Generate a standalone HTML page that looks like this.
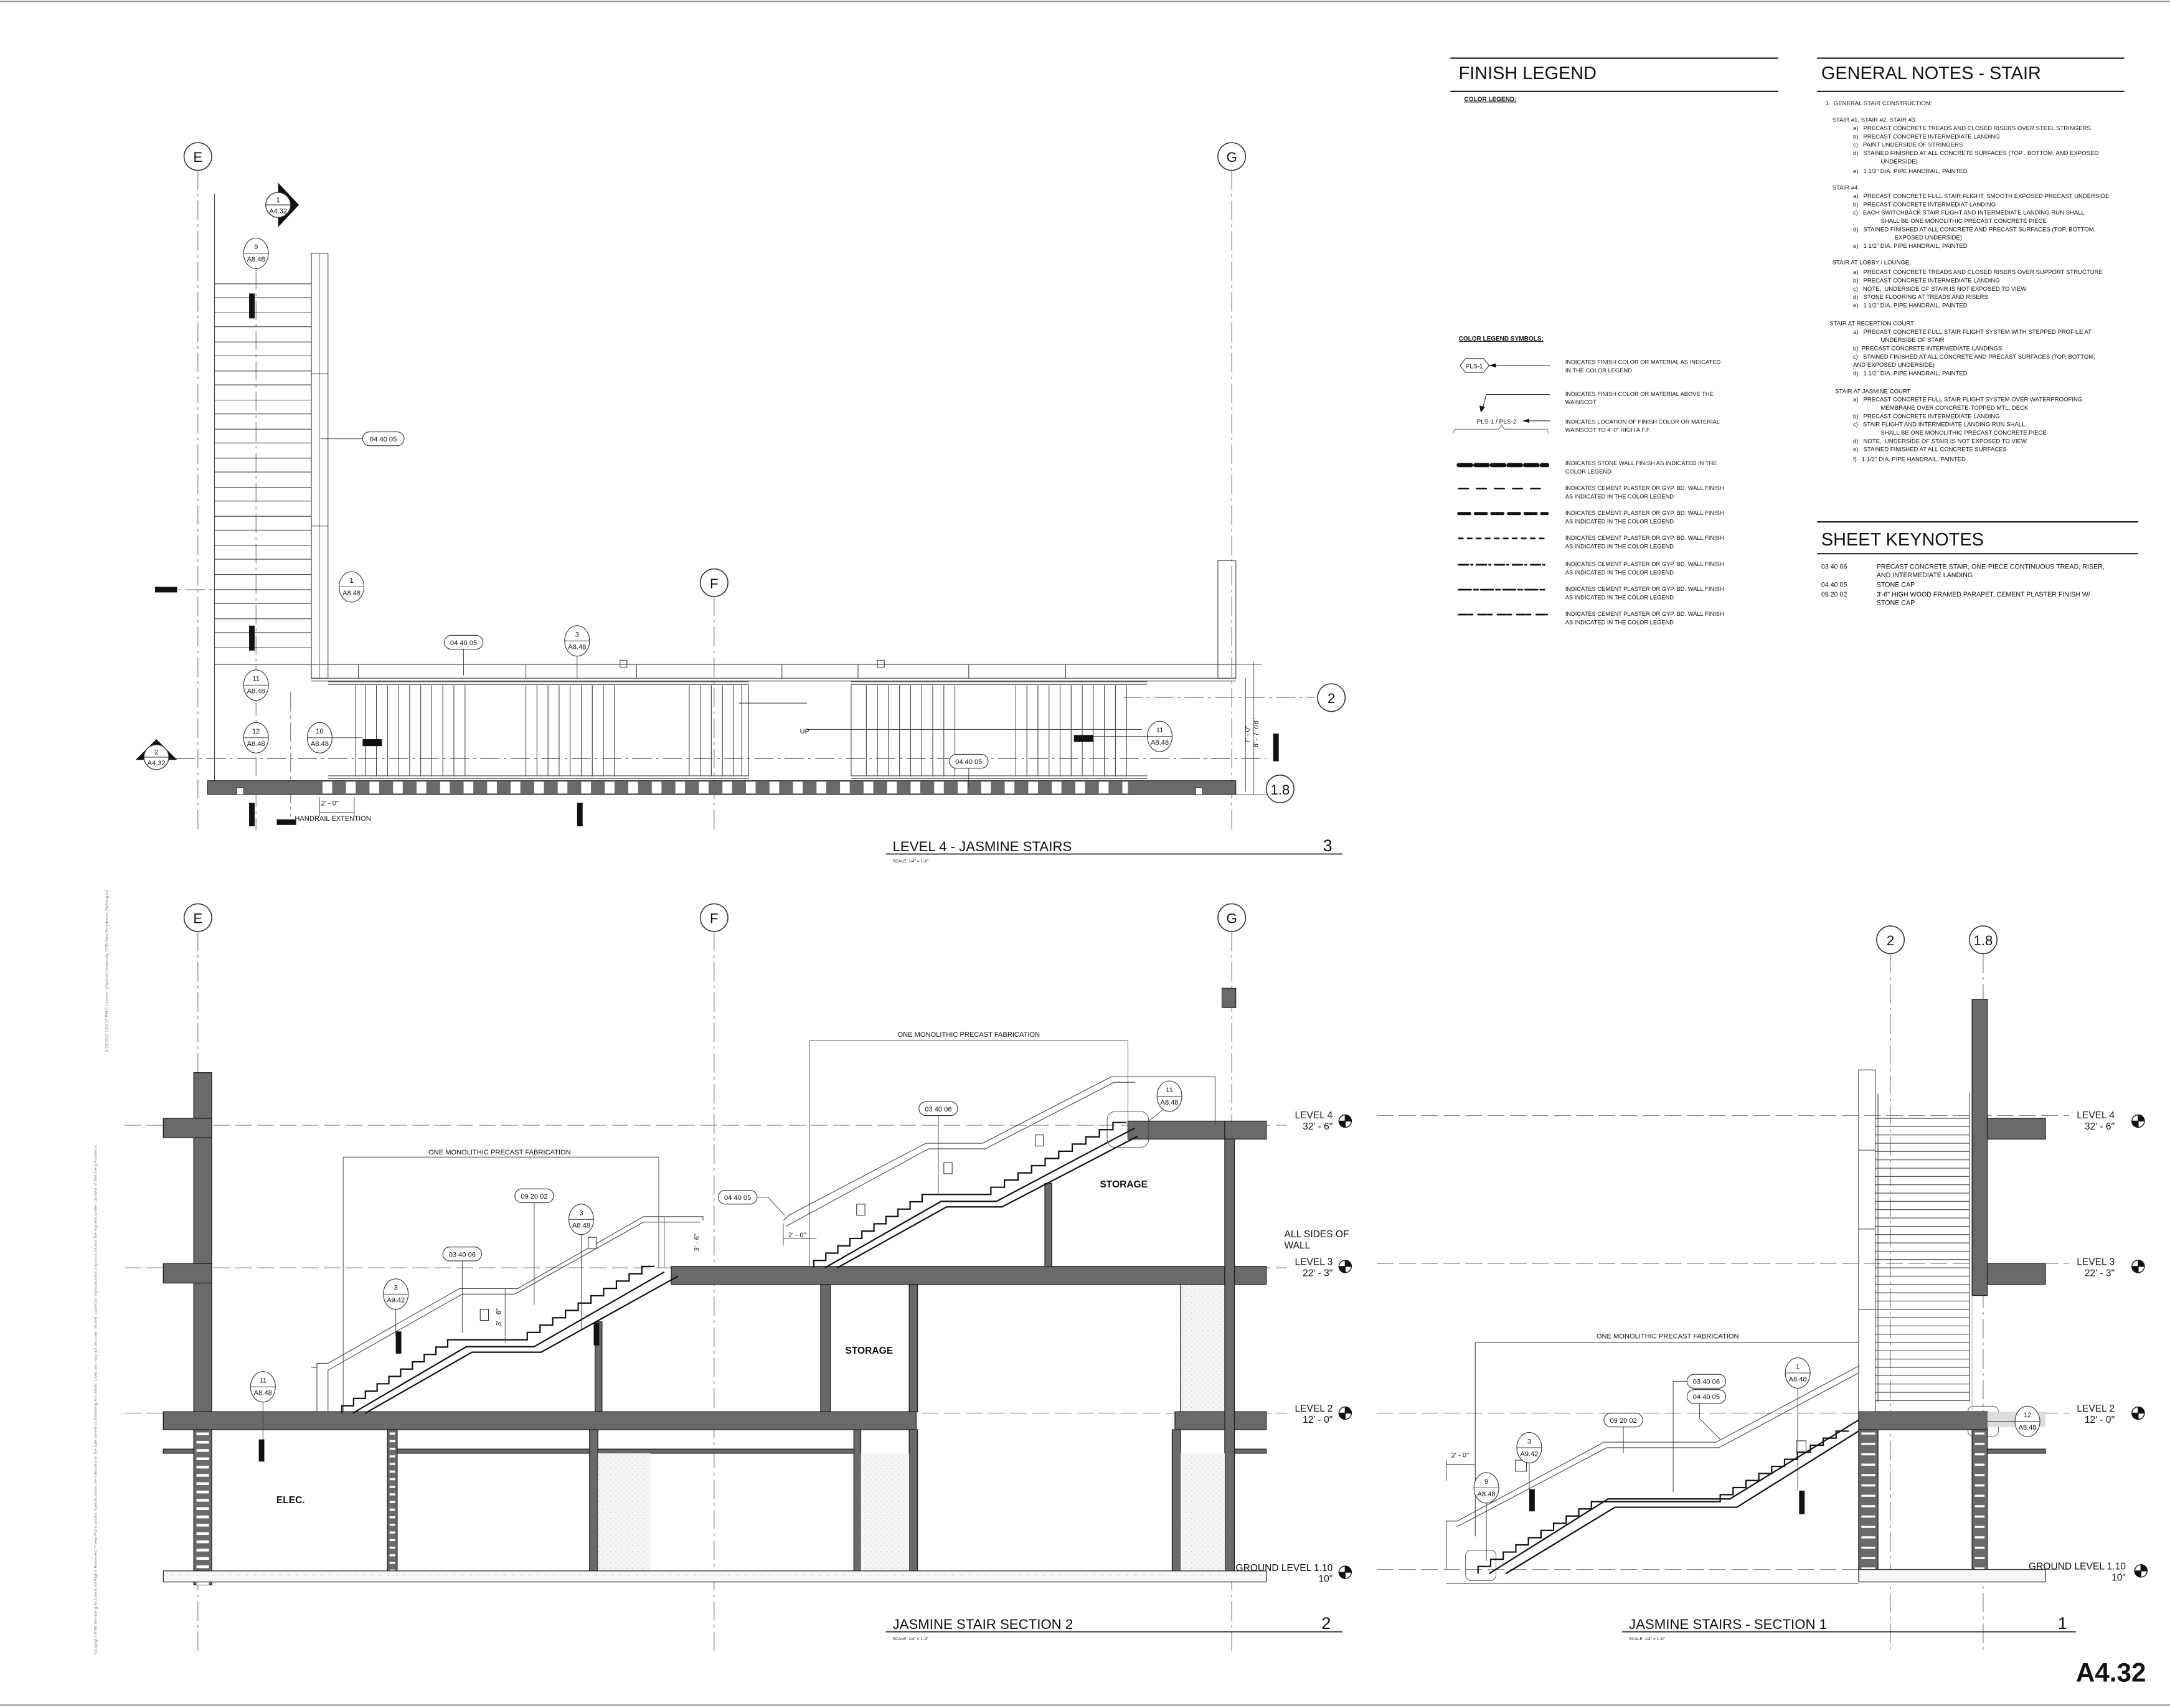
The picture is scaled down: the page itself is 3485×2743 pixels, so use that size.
<!DOCTYPE html>
<html><head><meta charset="utf-8"><style>
html,body{margin:0;padding:0;background:#fff}
svg{display:block}
text{font-family:"Liberation Sans",sans-serif;fill:#111}
.n{font-family:"Liberation Sans Narrow","Liberation Sans",sans-serif}
.pre text{white-space:pre}
</style></head><body>
<svg width="3485" height="2743" viewBox="0 0 1568 1234" xmlns="http://www.w3.org/2000/svg">
<defs>
<pattern id="hatch" width="4" height="4" patternUnits="userSpaceOnUse"><rect width="4" height="4" fill="#f4f4f4"/><circle cx="1" cy="1" r="0.3" fill="#bbb"/><circle cx="3" cy="3" r="0.3" fill="#ccc"/></pattern>
</defs>
<rect width="1568" height="1234" fill="#fff"/>
<line x1="0" y1="1" x2="1568" y2="1" stroke="#999" stroke-width="1"/>
<line x1="0" y1="1232" x2="1568" y2="1232" stroke="#999" stroke-width="1"/>
<text transform="translate(70,1195) rotate(-90)" font-size="3" style="fill:#888">Copyright 2008 Steinberg Architects All Rights Reserved. These Plans and/or Specifications are intended for the sole benefit of Steinberg Architects. Used and may not be used, reused, copied or reproduced in any form without the express written consent of Steinberg Architects.</text>
<text transform="translate(78,760) rotate(-90)" font-size="3" style="fill:#888">3/26/2018 2:05:12 PM     C:\Users\...\Stanford University GSB New Residence_Building.rvt</text>

<!-- ============ FINISH LEGEND ============ -->
<line x1="1048" y1="42" x2="1285" y2="42" stroke="#222" stroke-width="1"/>
<text x="1054" y="57" font-size="13">FINISH LEGEND</text>
<line x1="1048" y1="66" x2="1285" y2="66" stroke="#222" stroke-width="1"/>
<text x="1058" y="73" font-size="4.5" font-weight="bold" text-decoration="underline">COLOR LEGEND:</text>
<text x="1054" y="246" font-size="4.5" font-weight="bold" text-decoration="underline">COLOR LEGEND SYMBOLS:</text>
<polygon points="1055,264 1059,259 1072,259 1076,264 1072,269 1059,269" fill="none" stroke="#333" stroke-width="0.5"/>
<text x="1059" y="266" font-size="4.5">PLS-1</text>
<line x1="1076" y1="264" x2="1120" y2="264" stroke="#333" stroke-width="0.5"/>
<polygon points="1076,264 1081,262.5 1081,265.5" fill="#111"/>
<g font-size="4.2">
<text x="1131" y="263">INDICATES FINISH COLOR OR MATERIAL AS INDICATED</text><text x="1131" y="269">IN THE COLOR LEGEND</text>
<text x="1131" y="286">INDICATES FINISH COLOR OR MATERIAL ABOVE THE</text><text x="1131" y="292">WAINSCOT</text>
<text x="1131" y="306">INDICATES LOCATION OF FINISH COLOR OR MATERIAL</text><text x="1131" y="312">WAINSCOT TO 4'-0" HIGH A.F.F.</text>
<text x="1131" y="336">INDICATES STONE WALL FINISH AS INDICATED IN THE</text><text x="1131" y="342">COLOR LEGEND</text>
<text x="1131" y="354">INDICATES CEMENT PLASTER OR GYP. BD. WALL FINISH</text><text x="1131" y="360">AS INDICATED IN THE COLOR LEGEND</text>
<text x="1131" y="372">INDICATES CEMENT PLASTER OR GYP. BD. WALL FINISH</text><text x="1131" y="378">AS INDICATED IN THE COLOR LEGEND</text>
<text x="1131" y="390">INDICATES CEMENT PLASTER OR GYP. BD. WALL FINISH</text><text x="1131" y="396">AS INDICATED IN THE COLOR LEGEND</text>
<text x="1131" y="409">INDICATES CEMENT PLASTER OR GYP. BD. WALL FINISH</text><text x="1131" y="415">AS INDICATED IN THE COLOR LEGEND</text>
<text x="1131" y="427">INDICATES CEMENT PLASTER OR GYP. BD. WALL FINISH</text><text x="1131" y="433">AS INDICATED IN THE COLOR LEGEND</text>
<text x="1131" y="445">INDICATES CEMENT PLASTER OR GYP. BD. WALL FINISH</text><text x="1131" y="451">AS INDICATED IN THE COLOR LEGEND</text>
</g>
<polyline points="1120,285 1074,285 1071,296" fill="none" stroke="#333" stroke-width="0.5"/>
<polygon points="1070,298 1069,293 1073,294" fill="#111"/>
<text x="1067" y="306" font-size="4.5">PLS-1 / PLS-2</text>
<line x1="1101" y1="304" x2="1120" y2="304" stroke="#333" stroke-width="0.5"/>
<polygon points="1100,304 1105,302.5 1105,305.5" fill="#111"/>
<polyline points="1050,313 1051,310 1083,310 1085,307 1087,310 1118,310 1119,313" fill="none" stroke="#555" stroke-width="0.4"/>
<g stroke="#111" fill="none" stroke-linecap="round">
<line x1="1054" y1="336" x2="1118" y2="336" stroke-width="3" stroke-dasharray="9 3"/>
<line x1="1054" y1="353" x2="1118" y2="353" stroke-width="1" stroke-dasharray="7 6"/>
<line x1="1054" y1="371" x2="1118" y2="371" stroke-width="2.2" stroke-dasharray="2 1 2 1 2 4"/>
<line x1="1054" y1="389" x2="1118" y2="389" stroke-width="1.2" stroke-dasharray="3 3.5"/>
<line x1="1054" y1="408" x2="1118" y2="408" stroke-width="1.2" stroke-dasharray="7 2 1 3"/>
<line x1="1054" y1="426" x2="1118" y2="426" stroke-width="1.2" stroke-dasharray="9 2 1 1 1 2"/>
<line x1="1054" y1="444" x2="1118" y2="444" stroke-width="1.2" stroke-dasharray="6 1 3 4"/>
</g>

<!-- ============ GENERAL NOTES ============ -->
<line x1="1313" y1="42" x2="1535" y2="42" stroke="#222" stroke-width="1"/>
<text x="1316" y="57" font-size="13">GENERAL NOTES - STAIR</text>
<line x1="1313" y1="66" x2="1535" y2="66" stroke="#222" stroke-width="1"/>
<g font-size="4.3" class="pre">
<text x="1319" y="76">1.  GENERAL STAIR CONSTRUCTION:</text>
<text x="1324" y="88">STAIR #1, STAIR #2, STAIR #3</text>
<text x="1339" y="94">a)   PRECAST CONCRETE TREADS AND CLOSED RISERS OVER STEEL STRINGERS.</text>
<text x="1339" y="100">b)   PRECAST CONCRETE INTERMEDIATE LANDING</text>
<text x="1339" y="106">c)   PAINT UNDERSIDE OF STRINGERS</text>
<text x="1339" y="112">d)   STAINED FINISHED AT ALL CONCRETE SURFACES (TOP , BOTTOM, AND EXPOSED</text>
<text x="1359" y="118">UNDERSIDE)</text>
<text x="1339" y="125">e)   1 1/2" DIA. PIPE HANDRAIL, PAINTED</text>
<text x="1324" y="137">STAIR #4</text>
<text x="1339" y="143">a)   PRECAST CONCRETE FULL STAIR FLIGHT, SMOOTH EXPOSED PRECAST UNDERSIDE</text>
<text x="1339" y="149">b)   PRECAST CONCRETE INTERMEDIAT LANDING</text>
<text x="1339" y="155">c)   EACH SWITCHBACK STAIR FLIGHT AND INTERMEDIATE LANDING RUN SHALL</text>
<text x="1359" y="161">SHALL BE ONE MONOLITHIC PRECAST CONCRETE PIECE</text>
<text x="1339" y="167">d)   STAINED FINISHED AT ALL CONCRETE AND PRECAST SURFACES (TOP, BOTTOM,</text>
<text x="1369" y="173">EXPOSED UNDERSIDE)</text>
<text x="1339" y="179">e)   1 1/2" DIA. PIPE HANDRAIL, PAINTED</text>
<text x="1324" y="191">STAIR AT LOBBY / LOUNGE:</text>
<text x="1339" y="198">a)   PRECAST CONCRETE TREADS AND CLOSED RISERS OVER SUPPORT STRUCTURE</text>
<text x="1339" y="204">b)   PRECAST CONCRETE INTERMEDIATE LANDING</text>
<text x="1339" y="210">c)   NOTE,  UNDERSIDE OF STAIR IS NOT EXPOSED TO VIEW</text>
<text x="1339" y="216">d)   STONE FLOORING AT TREADS AND RISERS</text>
<text x="1339" y="222">e)   1 1/2" DIA. PIPE HANDRAIL, PAINTED</text>
<text x="1322" y="235">STAIR AT RECEPTION COURT</text>
<text x="1339" y="241">a)   PRECAST CONCRETE FULL STAIR FLIGHT SYSTEM WITH STEPPED PROFILE AT</text>
<text x="1359" y="247">UNDERSIDE OF STAIR</text>
<text x="1339" y="253">b)  PRECAST CONCRETE INTERMEDIATE LANDINGS</text>
<text x="1339" y="259">c)   STAINED FINISHED AT ALL CONCRETE AND PRECAST SURFACES (TOP, BOTTOM,</text>
<text x="1339" y="265">AND EXPOSED UNDERSIDE)</text>
<text x="1339" y="271">d)   1 1/2" DIA. PIPE HANDRAIL, PAINTED</text>
<text x="1326" y="284">STAIR AT JASMINE COURT</text>
<text x="1339" y="290">a)   PRECAST CONCRETE FULL STAIR FLIGHT SYSTEM OVER WATERPROOFING</text>
<text x="1359" y="296">MEMBRANE OVER CONCRETE-TOPPED MTL. DECK</text>
<text x="1339" y="302">b)   PRECAST CONCRETE INTERMEDIATE LANDING</text>
<text x="1339" y="308">c)   STAIR FLIGHT AND INTERMEDIATE LANDING RUN SHALL</text>
<text x="1359" y="314">SHALL BE ONE MONOLITHIC PRECAST CONCRETE PIECE</text>
<text x="1339" y="320">d)   NOTE,  UNDERSIDE OF STAIR IS NOT EXPOSED TO VIEW</text>
<text x="1339" y="326">e)   STAINED FINISHED AT ALL CONCRETE SURFACES</text>
<text x="1339" y="333">f)   1 1/2" DIA. PIPE HANDRAIL, PAINTED</text>
</g>
<line x1="1313" y1="377" x2="1545" y2="377" stroke="#222" stroke-width="1"/>
<text x="1316" y="394" font-size="13">SHEET KEYNOTES</text>
<line x1="1313" y1="400" x2="1545" y2="400" stroke="#222" stroke-width="1"/>
<g font-size="4.8">
<text x="1316" y="411">03 40 06</text><text x="1356" y="411">PRECAST CONCRETE STAIR, ONE-PIECE CONTINUOUS TREAD, RISER,</text>
<text x="1356" y="417">AND INTERMEDIATE LANDING</text>
<text x="1316" y="424">04 40 05</text><text x="1356" y="424">STONE CAP</text>
<text x="1316" y="431">09 20 02</text><text x="1356" y="431">3'-6" HIGH WOOD FRAMED PARAPET, CEMENT PLASTER FINISH W/</text>
<text x="1356" y="437">STONE CAP</text>
</g>

<!-- ============ PLAN LEVEL 4 ============ -->
<g stroke="#777" stroke-width="0.5" stroke-dasharray="14 3 2 3" fill="none">
<line x1="143" y1="123" x2="143" y2="600"/>
<line x1="890" y1="123" x2="890" y2="600"/>
<line x1="516" y1="431" x2="516" y2="600"/>
<line x1="105" y1="548" x2="915" y2="548" stroke="#444"/>
<line x1="112" y1="426" x2="225" y2="426"/>
<line x1="812" y1="504" x2="950" y2="504"/>
<line x1="185" y1="195" x2="185" y2="600"/>
<line x1="210" y1="500" x2="210" y2="590"/>
</g>
<g fill="#fff" stroke="#333" stroke-width="0.7">
<circle cx="143" cy="113" r="10"/><circle cx="890" cy="113" r="10"/><circle cx="516" cy="421" r="10"/>
<circle cx="962" cy="504" r="10"/><circle cx="925" cy="570" r="10"/>
</g>
<g font-size="10" text-anchor="middle">
<text x="143" y="117">E</text><text x="890" y="117">G</text><text x="516" y="425">F</text>
<text x="962" y="508">2</text><text x="925" y="574">1.8</text>
</g>
<g stroke="#444" stroke-width="0.5" fill="none">
<line x1="155" y1="140" x2="155" y2="572"/>
<rect x="225" y="183" width="12" height="307"/>
<line x1="231" y1="183" x2="231" y2="490" stroke="#888"/>
<line x1="225" y1="270" x2="237" y2="270"/><line x1="225" y1="380" x2="237" y2="380"/>
<path d="M155 205H225M155 215H225M155 226H225M155 236H225M155 247H225M155 257H225M155 268H225M155 278H225M155 289H225M155 299H225M155 310H225M155 320H225M155 331H225M155 341H225M155 352H225M155 362H225M155 373H225M155 383H225M155 394H225M155 404H225M155 415H225M155 426H225M155 436H225M155 447H225M155 457H225M155 468H225"/>
<line x1="155" y1="480" x2="893" y2="480"/>
<line x1="225" y1="490" x2="893" y2="490"/>
<line x1="225" y1="492" x2="893" y2="492"/>
<rect x="880" y="405" width="13" height="85"/>
<path d="M259 480V490M380 480V490M460 480V490M565 480V490M620 480V490M700 480V490M770 480V490"/>
<rect x="448" y="477" width="5" height="5"/><rect x="634" y="477" width="5" height="5"/>
<path d="M237 492.5H541M237 494.5H541M615 492.5H829M615 494.5H829M237 560.5H541M237 562.5H541M615 560.5H829M615 562.5H829"/>
<path d="M541 495V561M615 495V561"/>
<path d="M534 508H583"/>
<path d="M257 495V561M264 495V561M272 495V561M280 495V561M288 495V561M296 495V561M304 495V561M312 495V561M320 495V561M328 495V561M336 495V561M380 495V561M388 495V561M396 495V561M404 495V561M412 495V561M420 495V561M428 495V561M436 495V561M444 495V561M498 495V561M506 495V561M514 495V561M522 495V561M530 495V561M536 495V561"/>
<path d="M626 495V561M634 495V561M642 495V561M650 495V561M658 495V561M666 495V561M674 495V561M682 495V561M690 495V561M734 495V561M742 495V561M750 495V561M758 495V561M766 495V561M774 495V561M782 495V561M790 495V561M798 495V561M806 495V561M814 495V561"/>
<line x1="583" y1="527" x2="825" y2="527"/>
</g>
<text x="578" y="530" font-size="5" class="n">UP</text>
<rect x="150" y="564" width="743" height="10" fill="#6a6a6a" stroke="#222" stroke-width="0.5"/>
<line x1="233" y1="569" x2="815" y2="569" stroke="#fff" stroke-width="8.5" stroke-dasharray="7 10"/>
<rect x="171" y="569" width="5" height="5" fill="#fff" stroke="#222" stroke-width="0.4"/>
<rect x="864" y="569" width="5" height="5" fill="#fff" stroke="#222" stroke-width="0.4"/>
<g stroke="#444" stroke-width="0.4" fill="none">
<line x1="900" y1="490" x2="900" y2="572"/><line x1="906" y1="478" x2="906" y2="574"/>
<line x1="893" y1="480" x2="912" y2="480"/><line x1="893" y1="574" x2="915" y2="574"/>
<line x1="231" y1="576" x2="231" y2="590"/><line x1="256" y1="576" x2="256" y2="590"/><line x1="231" y1="587" x2="256" y2="587"/>
</g>
<text transform="translate(903,537) rotate(-90)" font-size="5" class="n">7' - 0"</text>
<text transform="translate(909,540) rotate(-90)" font-size="5" class="n">8' - 7 7/8"</text>
<text x="232" y="582" font-size="5" class="n">2' - 0"</text>
<text x="213" y="593" font-size="5" class="n">HANDRAIL EXTENTION</text>
<g fill="#111">
<rect x="180" y="212" width="4" height="18"/><rect x="112" y="424" width="16" height="4"/>
<rect x="180" y="452" width="4" height="18"/><rect x="262" y="534" width="14" height="5"/>
<rect x="776" y="531" width="14" height="5"/><rect x="920" y="530" width="4" height="20"/>
<rect x="180" y="580" width="4" height="17"/><rect x="417" y="580" width="4" height="17"/>
<rect x="200" y="592" width="14" height="4"/>
</g>
<polygon points="201,132 216,148 201,164" fill="#111"/>
<circle cx="201" cy="148" r="9" fill="#fff" stroke="#333" stroke-width="0.6"/>
<line x1="192" y1="148" x2="210" y2="148" stroke="#333" stroke-width="0.5"/>
<text x="201" y="146" font-size="5" text-anchor="middle">1</text><text x="201" y="154" font-size="5" text-anchor="middle">A4.32</text>
<polygon points="98,549 113,534 128,549" fill="#111"/>
<circle cx="113" cy="547" r="9" fill="#fff" stroke="#333" stroke-width="0.6"/>
<line x1="104" y1="547" x2="122" y2="547" stroke="#333" stroke-width="0.5"/>
<text x="113" y="545" font-size="5" text-anchor="middle">2</text><text x="113" y="553" font-size="5" text-anchor="middle">A4.32</text>
<g stroke="#333" stroke-width="0.5" fill="#fff">
<ellipse cx="185" cy="183" rx="9" ry="11"/><ellipse cx="254" cy="424" rx="9" ry="11"/>
<ellipse cx="185" cy="495" rx="9" ry="11"/><ellipse cx="185" cy="533" rx="9" ry="11"/>
<ellipse cx="231" cy="533" rx="9" ry="11"/><ellipse cx="417" cy="463" rx="9" ry="11"/>
<ellipse cx="838" cy="532" rx="9" ry="11"/>
<rect x="262" y="312" width="30" height="10" rx="5"/><rect x="321" y="459" width="28" height="10" rx="5"/>
<rect x="686" y="545" width="28" height="10" rx="5"/>
</g>
<g stroke="#333" stroke-width="0.4">
<line x1="176" y1="183" x2="194" y2="183"/><line x1="245" y1="424" x2="263" y2="424"/>
<line x1="176" y1="495" x2="194" y2="495"/><line x1="176" y1="533" x2="194" y2="533"/>
<line x1="222" y1="533" x2="240" y2="533"/><line x1="408" y1="463" x2="426" y2="463"/>
<line x1="829" y1="532" x2="847" y2="532"/>
<line x1="232" y1="317" x2="262" y2="317"/><line x1="335" y1="469" x2="335" y2="488"/>
<line x1="700" y1="555" x2="700" y2="569"/><line x1="240" y1="533" x2="262" y2="533"/>
<line x1="417" y1="474" x2="417" y2="490"/><line x1="790" y1="532" x2="829" y2="532"/>
</g>
<g font-size="5" text-anchor="middle" class="n">
<text x="185" y="180">9</text><text x="185" y="189">A8.48</text>
<text x="254" y="421">1</text><text x="254" y="430">A8.48</text>
<text x="185" y="492">11</text><text x="185" y="501">A8.48</text>
<text x="185" y="530">12</text><text x="185" y="539">A8.48</text>
<text x="231" y="530">10</text><text x="231" y="539">A8.48</text>
<text x="417" y="460">3</text><text x="417" y="469">A8.48</text>
<text x="838" y="529">11</text><text x="838" y="538">A8.48</text>
<text x="277" y="319">04 40 05</text><text x="335" y="466">04 40 05</text><text x="700" y="552">04 40 05</text>
</g>
<text x="645" y="615" font-size="10" class="n">LEVEL 4 - JASMINE STAIRS</text>
<line x1="640" y1="617" x2="970" y2="617" stroke="#222" stroke-width="0.8"/>
<text x="956" y="615" font-size="12">3</text>
<text x="645" y="623" font-size="3">SCALE: 1/4" = 1'-0"</text>

<!-- ============ SECTION 2 ============ -->
<g stroke="#777" stroke-width="0.5" stroke-dasharray="14 3 2 3" fill="none">
<line x1="143" y1="673" x2="143" y2="1195"/><line x1="516" y1="673" x2="516" y2="1195"/><line x1="890" y1="673" x2="890" y2="1195"/>
<line x1="1366" y1="689" x2="1366" y2="1195"/><line x1="1433" y1="689" x2="1433" y2="1195"/>
</g>
<g stroke="#888" stroke-width="0.5" stroke-dasharray="12 4" fill="none">
<line x1="90" y1="813" x2="930" y2="813"/><line x1="90" y1="916" x2="930" y2="916"/><line x1="90" y1="1021" x2="930" y2="1021"/>
<line x1="995" y1="806" x2="1495" y2="806"/><line x1="995" y1="913" x2="1495" y2="913"/><line x1="995" y1="1021" x2="1495" y2="1021"/><line x1="995" y1="1134" x2="1495" y2="1134"/>
</g>
<g fill="#fff" stroke="#333" stroke-width="0.7">
<circle cx="143" cy="663" r="10"/><circle cx="516" cy="663" r="10"/><circle cx="890" cy="663" r="10"/>
<circle cx="1366" cy="679" r="10"/><circle cx="1433" cy="679" r="10"/>
</g>
<g font-size="10" text-anchor="middle">
<text x="143" y="667">E</text><text x="516" y="667">F</text><text x="890" y="667">G</text>
<text x="1366" y="683">2</text><text x="1433" y="683">1.8</text>
</g>
<rect x="883" y="714" width="10" height="14" fill="#6a6a6a" stroke="#222" stroke-width="0.5"/>
<g fill="#6a6a6a" stroke="#222" stroke-width="0.6">
<rect x="140" y="775" width="13" height="246"/>
<rect x="118" y="808" width="35" height="14"/><rect x="118" y="913" width="35" height="14"/>
<rect x="118" y="1020" width="544" height="13"/>
<rect x="485" y="915" width="400" height="13"/><rect x="885" y="915" width="30" height="13"/>
<rect x="815" y="810" width="70" height="13"/><rect x="885" y="810" width="30" height="13"/>
<rect x="849" y="1020" width="66" height="13"/>
<rect x="593" y="928" width="7" height="92"/><rect x="657" y="928" width="6" height="92"/>
<rect x="755" y="855" width="5" height="60"/><rect x="430" y="955" width="5" height="65"/>
<rect x="885" y="823" width="7" height="315"/>
<rect x="280" y="1033" width="7" height="104"/><rect x="426" y="1033" width="6" height="104"/>
<rect x="617" y="1033" width="5" height="104"/><rect x="657" y="1033" width="6" height="104"/>
<rect x="847" y="1033" width="6" height="104"/>
<rect x="140" y="1033" width="13" height="112"/>
<rect x="287" y="1047" width="139" height="3"/><rect x="432" y="1047" width="185" height="3"/>
<rect x="118" y="1047" width="22" height="3"/><rect x="892" y="1047" width="23" height="3"/>
</g>
<rect x="432" y="1050" width="38" height="86" fill="url(#hatch)"/>
<rect x="622" y="1050" width="35" height="86" fill="url(#hatch)"/>
<rect x="853" y="1050" width="32" height="86" fill="url(#hatch)"/>
<rect x="853" y="928" width="32" height="92" fill="url(#hatch)"/>
<rect x="853" y="928" width="32" height="92" fill="none" stroke="#222" stroke-width="0.6"/>
<line x1="146.5" y1="1035" x2="146.5" y2="1145" stroke="#fff" stroke-width="9" stroke-dasharray="2 4"/>
<line x1="283.5" y1="1035" x2="283.5" y2="1137" stroke="#fff" stroke-width="4" stroke-dasharray="1.5 4"/>
<rect x="118" y="1135" width="797" height="8" fill="#f7f7f7" stroke="#333" stroke-width="0.6"/>
<line x1="118" y1="1138" x2="915" y2="1138" stroke="#999" stroke-width="0.4" stroke-dasharray="1 5"/>
<g fill="none" stroke="#111" stroke-width="1">
<path d="M247 1021 v-5.3h8.5v-5.3h8.5v-5.3h8.5v-5.3h8.5v-5.3h8.5v-5.3h8.5v-5.3h8.5v-5.3h8.5v-5.3h8.5v-5.3h8.5 h49 v-5.3h9.2v-5.3h9.2v-5.3h9.2v-5.3h9.2v-5.3h9.2v-5.3h9.2v-5.3h9.2v-5.3h9.2v-5.3h9.2v-5.3h9.2"/>
<polyline points="255,1021 337,973 386,973 480,919"/>
<polyline points="264,1021 341,977 391,977 490,922"/>
<path d="M588 916 v-5.3h8.7v-5.3h8.7v-5.3h8.7v-5.3h8.7v-5.3h8.7v-5.3h8.7v-5.3h8.7v-5.3h8.7v-5.3h8.7v-5.3h8.7 h41 v-5.2h9.8v-5.2h9.8v-5.2h9.8v-5.2h9.8v-5.2h9.8v-5.2h9.8v-5.2h9.8v-5.2h9.8v-5.2h9.8v-5.2h9.8"/>
<polyline points="596,916 680,868 720,868 820,815"/>
<polyline points="605,916 684,872 724,872 822,821"/>
</g>
<g fill="none" stroke="#444" stroke-width="0.5">
<polyline points="229,1020 229,985 237,985 332,931 374,931 465,879 508,879 508,882"/>
<polyline points="237,1020 237,990 334,935 372,935 465,883 506,883"/>
<polyline points="566,882 570,878 669,826 710,826 803,778 878,778 878,813"/>
<polyline points="568,886 671,830 712,830 805,782 820,782"/>
<line x1="225" y1="988" x2="229" y2="988"/>
</g>
<g stroke="#444" stroke-width="0.4" fill="none">
<line x1="248" y1="836" x2="248" y2="1021"/><line x1="476" y1="836" x2="476" y2="916"/><line x1="248" y1="836" x2="476" y2="836"/>
<line x1="585" y1="752" x2="585" y2="916"/><line x1="815" y1="752" x2="815" y2="810"/><line x1="585" y1="752" x2="815" y2="752"/>
<line x1="365" y1="931" x2="365" y2="970"/><line x1="480" y1="879" x2="480" y2="916"/>
<line x1="566" y1="895" x2="590" y2="895"/><line x1="566" y1="884" x2="566" y2="900"/>
<rect x="800" y="803" width="30" height="26" rx="6"/>
<rect x="1059" y="1120" width="22" height="22" rx="4"/>
<rect x="1422" y="1016" width="22" height="22" rx="4"/>
</g>
<g font-size="5" class="n" text-anchor="middle">
<text x="361" y="834">ONE MONOLITHIC PRECAST FABRICATION</text>
<text x="700" y="749">ONE MONOLITHIC PRECAST FABRICATION</text>
<text x="1205" y="967">ONE MONOLITHIC PRECAST FABRICATION</text>
<text x="576" y="894">2' - 0"</text>
</g>
<text transform="translate(362,958) rotate(-90)" font-size="5" class="n">3' - 6"</text>
<text transform="translate(505,904) rotate(-90)" font-size="5" class="n">3' - 6"</text>
<g fill="#fff" stroke="#333" stroke-width="0.5">
<rect x="347" y="946" width="6" height="8"/><rect x="425" y="894" width="6" height="8"/>
<rect x="619" y="870" width="6" height="8"/><rect x="682" y="840" width="6" height="8"/><rect x="748" y="820" width="6" height="8"/>
<rect x="1095" y="1055" width="8" height="8"/><rect x="1298" y="1041" width="7" height="8"/>
</g>
<g stroke="#333" stroke-width="0.5" fill="#fff">
<ellipse cx="190" cy="1002" rx="9" ry="11"/><ellipse cx="286" cy="935" rx="9" ry="11"/>
<ellipse cx="420" cy="881" rx="9" ry="11"/><ellipse cx="845" cy="792" rx="9" ry="11"/>
<rect x="320" y="901" width="28" height="10" rx="5"/><rect x="372" y="859" width="28" height="10" rx="5"/>
<rect x="519" y="860" width="28" height="10" rx="5"/><rect x="664" y="796" width="28" height="10" rx="5"/>
</g>
<g stroke="#333" stroke-width="0.4" fill="none">
<line x1="181" y1="1002" x2="199" y2="1002"/><line x1="277" y1="935" x2="295" y2="935"/>
<line x1="411" y1="881" x2="429" y2="881"/><line x1="836" y1="792" x2="854" y2="792"/>
<line x1="190" y1="1013" x2="190" y2="1040"/><line x1="286" y1="946" x2="286" y2="965"/>
<line x1="420" y1="892" x2="420" y2="960"/><line x1="334" y1="911" x2="334" y2="963"/>
<line x1="386" y1="869" x2="386" y2="943"/><line x1="678" y1="806" x2="678" y2="862"/>
<polyline points="547,865 555,865 567,878"/><line x1="840" y1="802" x2="830" y2="810"/>
</g>
<g font-size="5" text-anchor="middle" class="n">
<text x="190" y="999">11</text><text x="190" y="1008">A8.48</text>
<text x="286" y="932">3</text><text x="286" y="941">A9.42</text>
<text x="420" y="878">3</text><text x="420" y="887">A8.48</text>
<text x="845" y="789">11</text><text x="845" y="798">A8.48</text>
<text x="334" y="908">03 40 06</text><text x="386" y="866">09 20 02</text>
<text x="533" y="867">04 40 05</text><text x="678" y="803">03 40 06</text>
</g>
<g fill="#111">
<rect x="286" y="962" width="4" height="16"/><rect x="429" y="956" width="4" height="16"/>
<rect x="187" y="1040" width="4" height="16"/><rect x="1105" y="1076" width="4" height="16"/><rect x="1300" y="1077" width="4" height="17"/>
</g>
<g font-size="7" font-weight="bold" text-anchor="middle" class="n">
<text x="812" y="858">STORAGE</text><text x="628" y="978">STORAGE</text><text x="210" y="1086">ELEC.</text>
</g>
<g font-size="7" text-anchor="end" class="n">
<text x="963" y="808">LEVEL 4</text><text x="963" y="816">32' - 6"</text>
<text x="963" y="914">LEVEL 3</text><text x="963" y="922">22' - 3"</text>
<text x="963" y="1020">LEVEL 2</text><text x="963" y="1028">12' - 0"</text>
<text x="963" y="1135">GROUND LEVEL 1.10</text><text x="963" y="1143">10"</text>
<text x="1528" y="808">LEVEL 4</text><text x="1528" y="816">32' - 6"</text>
<text x="1528" y="914">LEVEL 3</text><text x="1528" y="922">22' - 3"</text>
<text x="1528" y="1020">LEVEL 2</text><text x="1528" y="1028">12' - 0"</text>
<text x="1536" y="1134">GROUND LEVEL 1.10</text><text x="1536" y="1142">10"</text>
</g>
<text x="928" y="894" font-size="7" class="n">ALL SIDES OF</text><text x="928" y="902" font-size="7" class="n">WALL</text>
<g stroke="#111" stroke-width="0.6">
<g transform="translate(972,810)"><circle r="4.5" fill="#fff"/><path d="M0 0V-4.5A4.5 4.5 0 0 1 4.5 0Z M0 0V4.5A4.5 4.5 0 0 1 -4.5 0Z" fill="#111"/></g>
<g transform="translate(972,915)"><circle r="4.5" fill="#fff"/><path d="M0 0V-4.5A4.5 4.5 0 0 1 4.5 0Z M0 0V4.5A4.5 4.5 0 0 1 -4.5 0Z" fill="#111"/></g>
<g transform="translate(972,1021)"><circle r="4.5" fill="#fff"/><path d="M0 0V-4.5A4.5 4.5 0 0 1 4.5 0Z M0 0V4.5A4.5 4.5 0 0 1 -4.5 0Z" fill="#111"/></g>
<g transform="translate(972,1136)"><circle r="4.5" fill="#fff"/><path d="M0 0V-4.5A4.5 4.5 0 0 1 4.5 0Z M0 0V4.5A4.5 4.5 0 0 1 -4.5 0Z" fill="#111"/></g>
<g transform="translate(1545,810)"><circle r="4.5" fill="#fff"/><path d="M0 0V-4.5A4.5 4.5 0 0 1 4.5 0Z M0 0V4.5A4.5 4.5 0 0 1 -4.5 0Z" fill="#111"/></g>
<g transform="translate(1545,915)"><circle r="4.5" fill="#fff"/><path d="M0 0V-4.5A4.5 4.5 0 0 1 4.5 0Z M0 0V4.5A4.5 4.5 0 0 1 -4.5 0Z" fill="#111"/></g>
<g transform="translate(1545,1021)"><circle r="4.5" fill="#fff"/><path d="M0 0V-4.5A4.5 4.5 0 0 1 4.5 0Z M0 0V4.5A4.5 4.5 0 0 1 -4.5 0Z" fill="#111"/></g>
<g transform="translate(1547,1135)"><circle r="4.5" fill="#fff"/><path d="M0 0V-4.5A4.5 4.5 0 0 1 4.5 0Z M0 0V4.5A4.5 4.5 0 0 1 -4.5 0Z" fill="#111"/></g>
</g>
<text x="645" y="1177" font-size="10" class="n">JASMINE STAIR SECTION 2</text>
<line x1="640" y1="1179" x2="970" y2="1179" stroke="#222" stroke-width="0.8"/>
<text x="955" y="1177" font-size="12">2</text>
<text x="645" y="1185" font-size="3">SCALE: 1/4" = 1'-0"</text>

<!-- ============ SECTION 1 ============ -->
<g fill="#6a6a6a" stroke="#222" stroke-width="0.6">
<rect x="1425" y="722" width="11" height="214"/>
<rect x="1436" y="808" width="42" height="15"/><rect x="1436" y="913" width="42" height="15"/>
<rect x="1343" y="1020" width="93" height="13"/>
<rect x="1343" y="1033" width="14" height="101"/><rect x="1425" y="1033" width="11" height="101"/>
<rect x="1436" y="1047" width="42" height="3"/>
</g>
<rect x="1436" y="1020" width="42" height="11" fill="#ddd"/>
<line x1="1350" y1="1035" x2="1350" y2="1134" stroke="#fff" stroke-width="10" stroke-dasharray="1.5 6"/>
<line x1="1430.5" y1="1035" x2="1430.5" y2="1134" stroke="#fff" stroke-width="7" stroke-dasharray="1.5 6"/>
<rect x="1343" y="1134" width="135" height="9" fill="#f7f7f7" stroke="#333" stroke-width="0.6"/>
<g stroke="#444" stroke-width="0.5" fill="none">
<rect x="1343" y="773" width="12" height="247"/>
<line x1="1425" y1="936" x2="1425" y2="1020" stroke="#bbb"/>
<path d="M1357 790V1013M1423 790V1013"/>
<path d="M1355 808H1423M1355 814H1423M1355 820H1423M1355 826H1423M1355 832H1423M1355 838H1423M1355 844H1423M1355 850H1423M1355 856H1423M1355 862H1423M1355 868H1423M1355 874H1423M1355 880H1423M1355 886H1423M1355 892H1423M1355 898H1423M1355 904H1423M1355 910H1423M1355 916H1423M1355 922H1423M1355 928H1423M1355 934H1423M1355 940H1423M1355 946H1423M1355 952H1423M1355 958H1423M1355 964H1423M1355 970H1423M1355 976H1423M1355 982H1423M1355 988H1423M1355 994H1423M1355 1000H1423M1355 1006H1423M1355 1012H1423"/>
<path d="M1343 831H1355M1343 888H1355M1343 946H1355"/>
<polyline points="1045,1134 1045,1099 1053,1099 1159,1042 1240,1042 1343,987"/>
<polyline points="1053,1103 1161,1046 1242,1046 1343,992"/>
<line x1="1045" y1="1144" x2="1343" y2="1144"/>
<line x1="1066" y1="970" x2="1066" y2="1110"/><line x1="1066" y1="970" x2="1343" y2="970"/>
<line x1="1045" y1="1055" x2="1045" y2="1070"/><line x1="1045" y1="1058" x2="1066" y2="1058"/>
</g>
<g fill="none" stroke="#111" stroke-width="1">
<path d="M1068 1137 v-5.2h9.1v-5.2h9.1v-5.2h9.1v-5.2h9.1v-5.2h9.1v-5.2h9.1v-5.2h9.1v-5.2h9.1v-5.2h9.1v-5.2h9.1 h84 v-5.1h9.3v-5.1h9.3v-5.1h9.3v-5.1h9.3v-5.1h9.3v-5.1h9.3v-5.1h9.3v-5.1h9.3v-5.1h9.3v-5.1h9.3"/>
<polyline points="1076,1137 1162,1083 1250,1083 1343,1026"/>
<polyline points="1088,1137 1167,1089 1255,1089 1343,1034"/>
</g>
<g stroke="#333" stroke-width="0.5" fill="#fff">
<ellipse cx="1074" cy="1075" rx="9" ry="11"/><ellipse cx="1105" cy="1046" rx="9" ry="11"/>
<ellipse cx="1299" cy="992" rx="9" ry="11"/><ellipse cx="1465" cy="1027" rx="9" ry="11"/>
<rect x="1159" y="1021" width="28" height="10" rx="5"/><rect x="1219" y="993" width="28" height="10" rx="5"/>
<rect x="1219" y="1004" width="28" height="10" rx="5"/>
</g>
<g stroke="#333" stroke-width="0.4" fill="none">
<line x1="1065" y1="1075" x2="1083" y2="1075"/><line x1="1096" y1="1046" x2="1114" y2="1046"/>
<line x1="1290" y1="992" x2="1308" y2="992"/><line x1="1456" y1="1027" x2="1474" y2="1027"/>
<line x1="1074" y1="1086" x2="1074" y2="1128"/><line x1="1105" y1="1057" x2="1105" y2="1076"/>
<line x1="1299" y1="1003" x2="1299" y2="1077"/><line x1="1173" y1="1031" x2="1173" y2="1050"/>
<polyline points="1219,998 1209,998 1209,1078"/><polyline points="1228,1014 1228,1025 1243,1040"/>
<line x1="1436" y1="1027" x2="1456" y2="1027"/>
</g>
<g font-size="5" text-anchor="middle" class="n">
<text x="1074" y="1072">9</text><text x="1074" y="1081">A8.48</text>
<text x="1105" y="1043">3</text><text x="1105" y="1052">A9.42</text>
<text x="1299" y="989">1</text><text x="1299" y="998">A8.48</text>
<text x="1465" y="1024">12</text><text x="1465" y="1033">A8.48</text>
<text x="1173" y="1028">09 20 02</text><text x="1233" y="1000">03 40 06</text><text x="1233" y="1011">04 40 05</text>
<text x="1055" y="1053">2' - 0"</text>
</g>
<text x="1177" y="1177" font-size="10" class="n">JASMINE STAIRS - SECTION 1</text>
<line x1="1172" y1="1179" x2="1500" y2="1179" stroke="#222" stroke-width="0.8"/>
<text x="1487" y="1177" font-size="12">1</text>
<text x="1177" y="1185" font-size="3">SCALE: 1/4" = 1'-0"</text>

<text x="1500" y="1215" font-size="19" font-weight="bold">A4.32</text>
</svg>
</body></html>
